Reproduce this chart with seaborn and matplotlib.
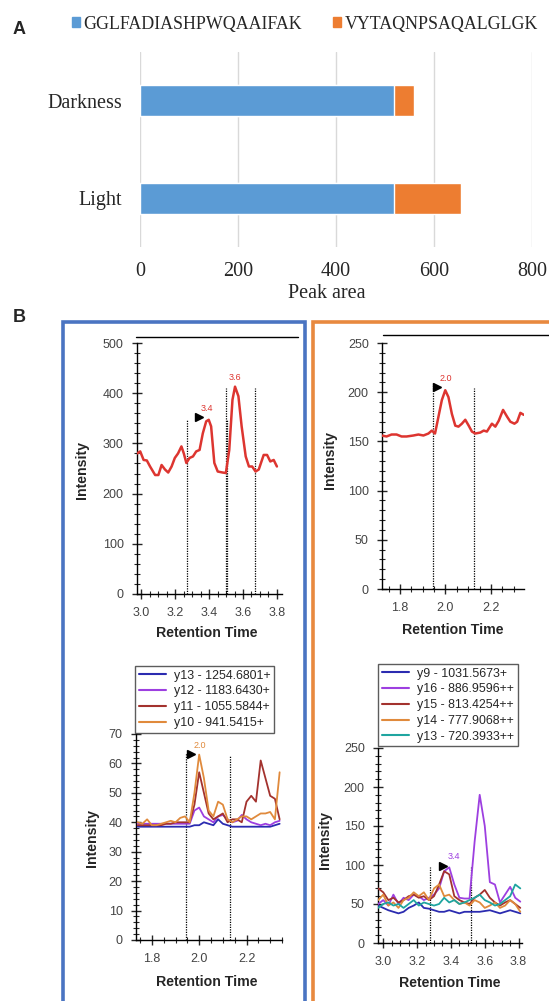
import numpy as np
import pandas as pd
import matplotlib
matplotlib.use('Agg')
import matplotlib.pyplot as plt
from matplotlib.patches import Patch, Rectangle
from matplotlib.lines import Line2D
from matplotlib.ticker import MultipleLocator, FormatStrFormatter
import seaborn as sns

# ---- panel A: peak areas ----
conditions = ['Darkness', 'Light']
pep_ggl = [519, 519]
pep_vyt = [40, 136]
pep_names = ['GGLFADIASHPWQAAIFAK', 'VYTAQNPSAQALGLGK']

# ---- panel B: chromatograms ----
# top-left: GGLF... total trace
tl_rt = [2.975, 2.994, 3.014, 3.033, 3.052, 3.082, 3.101, 3.120, 3.140, 3.159,
         3.179, 3.198, 3.217, 3.237, 3.251, 3.266, 3.285, 3.305, 3.324, 3.344,
         3.363, 3.383, 3.398, 3.412, 3.431, 3.451, 3.480, 3.499, 3.519, 3.538,
         3.553, 3.573, 3.592, 3.616, 3.635, 3.654, 3.674, 3.693, 3.722, 3.742,
         3.761, 3.781, 3.800]
tl_int = [280, 284, 267, 266, 254, 237, 237, 257, 248, 242,
          254, 271, 280, 294, 280, 261, 271, 274, 284, 287,
          320, 344, 347, 334, 261, 244, 242, 241, 287, 387,
          413, 394, 334, 274, 254, 254, 244, 248, 277, 277,
          264, 267, 254]

# top-right: VYTA... total trace
tr_rt = [1.719, 1.741, 1.763, 1.785, 1.807, 1.829, 1.859, 1.881, 1.903, 1.925,
         1.940, 1.954, 1.969, 1.984, 1.999, 2.013, 2.028, 2.043, 2.057, 2.072,
         2.087, 2.102, 2.116, 2.131, 2.153, 2.168, 2.182, 2.204, 2.219, 2.234,
         2.253, 2.271, 2.285, 2.303, 2.315, 2.329, 2.344]
tr_int = [156, 155, 157, 157, 155, 155, 156, 157, 156, 158,
          161, 158, 175, 192, 202, 195, 178, 166, 165, 168,
          172, 166, 160, 158, 159, 161, 160, 168, 165, 171,
          182, 175, 170, 168, 170, 179, 177]

# bottom-left: fragment ions
bl_rt = [1.74, 1.76, 1.78, 1.80, 1.82, 1.84, 1.86, 1.88, 1.90, 1.92,
         1.94, 1.96, 1.98, 2.00, 2.02, 2.04, 2.06, 2.08, 2.10, 2.12,
         2.14, 2.16, 2.18, 2.20, 2.22, 2.24, 2.26, 2.28, 2.30, 2.32, 2.34]
bl_ions = ['y13 - 1254.6801+', 'y12 - 1183.6430+', 'y11 - 1055.5844+', 'y10 - 941.5415+']
bl_y13 = [38.5, 38.5, 38.5, 38.5, 38.5, 38.5, 38.5, 38.5, 38.5, 38.5,
          38.5, 38.5, 39, 39, 40, 39.5, 39, 41, 39.5, 39,
          38.5, 38.5, 38.5, 38.5, 38.5, 38.5, 38.5, 38.5, 38.5, 39, 39.5]
bl_y12 = [39.5, 39.5, 39.5, 39.5, 39.5, 39.5, 39.5, 39.5, 39.5, 39.5,
          39.5, 39.5, 44, 45, 42, 41, 40, 42, 42.5, 41,
          40, 40.5, 42.5, 41, 40, 39.5, 39, 39.5, 39, 40, 40.5]
bl_y11 = [39, 39, 39, 39, 39, 39, 39.5, 39.5, 40, 40,
          40, 40, 46, 57, 50, 43, 41, 42, 43, 40,
          41, 41, 40, 47, 49, 47, 61, 55, 49, 48, 41]
bl_y10 = [40, 39.5, 41, 39, 39, 39.5, 40, 40.5, 40, 41.5,
          42, 40, 50, 63, 55, 44, 42, 47, 46, 41,
          40, 41, 42, 42, 41, 42, 43, 43, 43.5, 41, 57]

# bottom-right: fragment ions
br_rt = [2.97, 3.00, 3.03, 3.06, 3.09, 3.12, 3.15, 3.18, 3.21, 3.24,
         3.27, 3.30, 3.33, 3.36, 3.39, 3.42, 3.45, 3.48, 3.51, 3.54,
         3.57, 3.60, 3.63, 3.66, 3.69, 3.72, 3.75, 3.78, 3.81]
br_ions = ['y9 - 1031.5673+', 'y16 - 886.9596++', 'y15 - 813.4254++',
           'y14 - 777.9068++', 'y13 - 720.3933++']
br_y9 = [48, 45, 42, 40, 38, 40, 45, 48, 52, 45,
         44, 42, 40, 40, 42, 40, 38, 40, 40, 40,
         40, 41, 42, 40, 38, 40, 42, 40, 38]
br_y16 = [50, 55, 48, 62, 50, 58, 55, 62, 60, 55,
          58, 62, 70, 92, 97, 75, 58, 57, 57, 130,
          190, 150, 78, 75, 52, 62, 72, 58, 53]
br_y15 = [70, 65, 55, 58, 52, 55, 60, 62, 58, 60,
          55, 60, 75, 92, 88, 60, 55, 52, 50, 58,
          62, 68, 58, 52, 48, 52, 55, 50, 45]
br_y14 = [55, 62, 48, 52, 45, 55, 58, 65, 60, 65,
          55, 70, 75, 60, 62, 55, 50, 52, 48, 55,
          52, 45, 48, 52, 45, 48, 55, 50, 40]
br_y13 = [45, 50, 52, 48, 50, 45, 50, 55, 48, 52,
          50, 48, 50, 58, 52, 55, 50, 52, 55, 58,
          62, 55, 52, 48, 50, 55, 60, 75, 70]

# integration boundaries (rt, top), peak flag and apex label
tl_bounds = [(3.27, 348), (3.505, 348), (3.50, 410), (3.67, 410)]
tl_flag = (3.34, 352)
tl_labels = [(3.39, 370, '3.4'), (3.555, 432, '3.6')]
tr_bounds = [(1.947, 209), (2.127, 204)]
tr_flag = (1.962, 205)
tr_labels = [(2.0, 214, '2.0')]
bl_bounds = [(1.946, 63.6), (2.130, 63)]
bl_flag = (1.966, 63.3)
bl_labels = [(2.003, 66, '2.0')]
br_bounds = [(3.277, 97), (3.521, 97)]
br_flag = (3.352, 99)
br_labels = [(3.42, 111, '3.4')]

BLUE = '#5B9BD5'
ORANGE = '#ED7D31'
RED = '#DD3530'
ION_NAVY = '#2B2BB0'
ION_PURPLE = '#9D3FE0'
ION_BROWN = '#A3322E'
ION_ORANGE = '#E08A3C'
ION_TEAL = '#1FA5A0'

sns.set_style("white")
plt.rcParams['font.family'] = ['Liberation Sans', 'DejaVu Sans']

W, H = 549, 1001
fig = plt.figure(figsize=(W / 100, H / 100), dpi=100)


def fx(px):
    return px / W


def fy(py):
    return 1 - py / H


# ---------------- panel A ----------------
dfA = pd.DataFrame({'cond': conditions, 'ggl': pep_ggl,
                    'total': np.add(pep_ggl, pep_vyt)})
axA = fig.add_axes([fx(140), fy(247), fx(532) - fx(140), (247 - 52) / H])
sns.barplot(data=dfA, x='total', y='cond', color=ORANGE, width=0.32,
            saturation=1, errorbar=None, ax=axA, zorder=3)
sns.barplot(data=dfA, x='ggl', y='cond', color=BLUE, width=0.32,
            saturation=1, errorbar=None, ax=axA, zorder=3)
axA.set_xlim(0, 800)
axA.set_ylim(1.5, -0.5)
axA.set_xticks(range(0, 801, 200))
axA.grid(axis='x', color='#d9d9d9', lw=1, zorder=0)
axA.grid(axis='y', visible=False)
for s in axA.spines.values():
    s.set_visible(False)
axA.tick_params(length=0, labelsize=14.5, pad=11)
axA.tick_params(axis='y', pad=13)
for t in axA.get_xticklabels() + axA.get_yticklabels():
    t.set_family('Liberation Serif')
axA.set_ylabel('')
axA.set_xlabel('Peak area', family='Liberation Serif', fontsize=14.5, va='center')
axA.xaxis.set_label_coords(fx(327), fy(293), transform=fig.transFigure)

fig.legend(handles=[Patch(color=BLUE), Patch(color=ORANGE)], labels=pep_names,
           loc='center left', bbox_to_anchor=(fx(72), fy(24)), ncol=2,
           frameon=False, handlelength=0.45, handleheight=0.45,
           handletextpad=0.2, columnspacing=1.7, borderpad=0, borderaxespad=0,
           prop={'family': 'Liberation Serif', 'size': 12.9})

fig.text(fx(13), fy(29), 'A', fontsize=13, fontweight='bold', va='center')
fig.text(fx(13), fy(318), 'B', fontsize=13, fontweight='bold', va='center')

# boxes around the two peptides
fig.add_artist(Rectangle((fx(63), -0.02), fx(305) - fx(63), fy(322) + 0.02,
                         transform=fig.transFigure, fill=False,
                         edgecolor='#4A74C2', lw=2.6))
fig.add_artist(Rectangle((fx(313), -0.02), fx(570) - fx(313), fy(322) + 0.02,
                         transform=fig.transFigure, fill=False,
                         edgecolor='#E8893F', lw=2.6))
fig.add_artist(Line2D([fx(136), fx(298)], [fy(337), fy(337)], color='k', lw=1))
fig.add_artist(Line2D([fx(383), fx(549)], [fy(335), fy(335)], color='k', lw=1))


def chromatogram(rect, df, palette, xlim, ylim, xmaj, xmin, ymaj, ymin,
                 bounds, flag, labels, label_color, ylab_xy, xlab_xy, lw,
                 legend_anchor=None):
    ax = fig.add_axes(rect)
    ax.set_facecolor('none')
    sns.lineplot(data=df, x='rt', y='intensity', hue='ion', palette=palette,
                 linewidth=lw, ax=ax, legend=legend_anchor is not None,
                 sort=False, zorder=3)
    for x, top in bounds:
        ax.vlines(x, 0, top, colors='k', linestyles=(0, (1, 1)), lw=0.9, zorder=2)
    ax.plot(flag[0], flag[1], marker='>', color='k', ms=5.5, zorder=4)
    for x, y, s in labels:
        ax.text(x, y, s, color=label_color, fontsize=6.5, ha='center', va='center')
    ax.set_xlim(*xlim)
    ax.set_ylim(*ylim)
    ax.xaxis.set_major_locator(MultipleLocator(xmaj))
    ax.xaxis.set_minor_locator(MultipleLocator(xmin))
    ax.yaxis.set_major_locator(MultipleLocator(ymaj))
    ax.yaxis.set_minor_locator(MultipleLocator(ymin))
    ax.xaxis.set_major_formatter(FormatStrFormatter('%.1f'))
    for side in ['top', 'right']:
        ax.spines[side].set_visible(False)
    for side in ['left', 'bottom']:
        ax.spines[side].set_linewidth(1.0)
        ax.spines[side].set_color('k')
    ax.tick_params(which='major', direction='inout', length=7, width=1,
                   labelsize=9, labelcolor='#444444', pad=6)
    ax.tick_params(which='minor', direction='inout', length=4, width=0.8)
    ax.tick_params(axis='both', which='both', bottom=True, left=True)
    ax.set_xlabel('Retention Time', fontsize=10.2, fontweight='bold')
    ax.set_ylabel('Intensity', fontsize=10.2, fontweight='bold')
    ax.xaxis.set_label_coords(fx(xlab_xy[0]), fy(xlab_xy[1]), transform=fig.transFigure)
    ax.yaxis.set_label_coords(fx(ylab_xy[0]), fy(ylab_xy[1]), transform=fig.transFigure)
    ax.xaxis.label.set_va('center')
    ax.yaxis.label.set_va('center')
    if legend_anchor is not None:
        sns.move_legend(ax, 'upper left', bbox_to_anchor=(fx(legend_anchor[0]), fy(legend_anchor[1])),
                        bbox_transform=fig.transFigure, title=None, frameon=True,
                        fancybox=False, edgecolor='#333333', fontsize=8.9,
                        handlelength=2.2, handletextpad=0.65, borderpad=0.3,
                        labelspacing=0.3, borderaxespad=0)
        ax.get_legend().get_frame().set_linewidth(1.0)
        for line in ax.get_legend().get_lines():
            line.set_linewidth(1.5)
    return ax


df_tl = pd.DataFrame({'rt': tl_rt, 'intensity': tl_int, 'ion': 'total'})
chromatogram([fx(137), fy(594), fx(282) - fx(137), (594 - 343) / H], df_tl,
             {'total': RED}, (2.975, 3.83), (0, 500), 0.2, 0.05, 100, 20,
             tl_bounds, tl_flag, tl_labels, RED, (82, 470), (207, 633), 1.8)

df_tr = pd.DataFrame({'rt': tr_rt, 'intensity': tr_int, 'ion': 'total'})
chromatogram([fx(382), fy(589), fx(524) - fx(382), (589 - 343) / H], df_tr,
             {'total': RED}, (1.721, 2.345), (0, 250), 0.2, 0.05, 50, 10,
             tr_bounds, tr_flag, tr_labels, RED, (330, 460), (453, 630), 1.8)

df_bl = pd.concat([pd.DataFrame({'rt': bl_rt, 'intensity': v, 'ion': n})
                   for n, v in zip(bl_ions, [bl_y13, bl_y12, bl_y11, bl_y10])])
chromatogram([fx(136), fy(940), fx(282) - fx(136), (940 - 734) / H], df_bl,
             dict(zip(bl_ions, [ION_NAVY, ION_PURPLE, ION_BROWN, ION_ORANGE])),
             (1.733, 2.35), (0, 70), 0.2, 0.05, 10, 2,
             bl_bounds, bl_flag, bl_labels, ION_ORANGE, (92, 838), (207, 982), 1.3,
             legend_anchor=(135, 666))

df_br = pd.concat([pd.DataFrame({'rt': br_rt, 'intensity': v, 'ion': n})
                   for n, v in zip(br_ions, [br_y9, br_y16, br_y15, br_y14, br_y13])])
chromatogram([fx(378), fy(943), fx(522) - fx(378), (943 - 748) / H], df_br,
             dict(zip(br_ions, [ION_NAVY, ION_PURPLE, ION_BROWN, ION_ORANGE, ION_TEAL])),
             (2.969, 3.82), (0, 250), 0.2, 0.05, 50, 10,
             br_bounds, br_flag, br_labels, ION_PURPLE, (325, 840), (450, 983), 1.3,
             legend_anchor=(378, 664))

fig.savefig('out.png', dpi=100)
